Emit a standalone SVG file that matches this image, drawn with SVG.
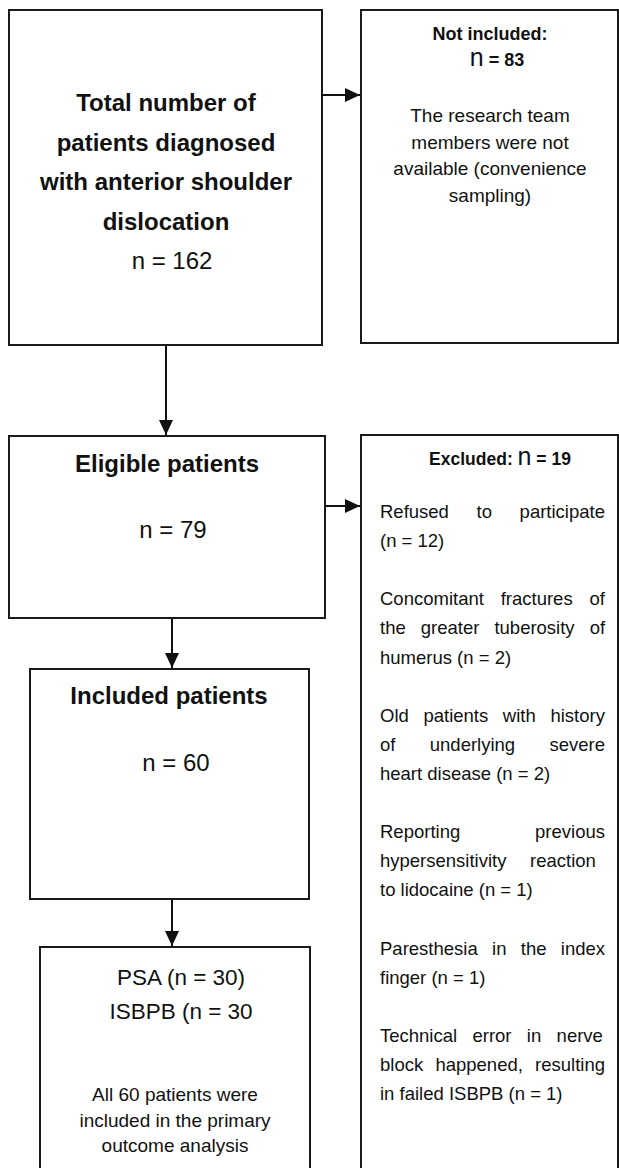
<svg xmlns="http://www.w3.org/2000/svg" width="619" height="1168" viewBox="0 0 619 1168">
<style>
.box{fill:#fff;stroke:#1a1a1a;stroke-width:2}
.t{font-family:"Liberation Sans",Arial,sans-serif;fill:#111}
.b{font-weight:bold}
.title{font-size:24px;font-weight:bold}
.num{font-size:24px}
.mid{text-anchor:middle}
.body{font-size:19px}
.ex{font-size:18.5px}
.bign{font-size:25px;font-weight:normal}
.hdr{font-size:17.5px;font-weight:bold}
.conn{stroke:#111;stroke-width:2;fill:none;marker-end:url(#ah)}
</style>
<defs>
<marker id="ah" markerUnits="userSpaceOnUse" markerWidth="15" markerHeight="14" refX="15" refY="7" orient="auto">
<path d="M0,0 L15,7 L0,14 z" fill="#111"/>
</marker>
</defs>
<rect width="619" height="1168" fill="#fff"/>

<g id="node-total">
<rect class="box" x="9" y="10" width="313" height="335"/>
<text class="t title mid" x="166" y="111">Total number of</text>
<text class="t title mid" x="166" y="150.5">patients diagnosed</text>
<text class="t title mid" x="166" y="190">with anterior shoulder</text>
<text class="t title mid" x="166" y="229.5">dislocation</text>
<text class="t num mid" x="172" y="269">n = 162</text>
</g>

<g id="node-notincluded">
<rect class="box" x="361" y="10" width="257" height="333"/>
<text class="t hdr mid" x="490" y="40" style="font-size:18px">Not included:</text>
<text class="t hdr mid" x="497" y="66" style="font-size:18px"><tspan class="bign">n</tspan> = 83</text>
<text class="t body mid" x="490" y="122">The research team</text>
<text class="t body mid" x="490" y="148.5">members were not</text>
<text class="t body mid" x="490" y="175">available (convenience</text>
<text class="t body mid" x="490" y="201.5">sampling)</text>
</g>

<g id="node-eligible">
<rect class="box" x="9" y="436" width="316" height="182"/>
<text class="t title mid" x="167" y="472">Eligible patients</text>
<text class="t num mid" x="173" y="538">n = 79</text>
</g>

<g id="node-excluded">
<rect class="box" x="361" y="435" width="257" height="760"/>
<text class="t hdr mid" x="500" y="465">Excluded: <tspan class="bign">n</tspan> = 19</text>
<text class="t ex" x="380" y="518" word-spacing="22.5">Refused to participate</text>
<text class="t ex" x="380" y="547.1">(n = 12)</text>
<text class="t ex" x="380" y="605.3" word-spacing="11.7">Concomitant fractures of</text>
<text class="t ex" x="380" y="634.4" word-spacing="9.9">the greater tuberosity of</text>
<text class="t ex" x="380" y="663.5">humerus (n = 2)</text>
<text class="t ex" x="380" y="721.7" word-spacing="9.5">Old patients with history</text>
<text class="t ex" x="380" y="750.8" word-spacing="29.2">of underlying severe</text>
<text class="t ex" x="380" y="779.9">heart disease (n = 2)</text>
<text class="t ex" x="380" y="838.1" word-spacing="69.7">Reporting previous</text>
<text class="t ex" x="380" y="867.2" word-spacing="18.4">hypersensitivity reaction</text>
<text class="t ex" x="380" y="896.3">to lidocaine (n = 1)</text>
<text class="t ex" x="380" y="954.5" word-spacing="9.2">Paresthesia in the index</text>
<text class="t ex" x="380" y="983.6">finger (n = 1)</text>
<text class="t ex" x="380" y="1041.8" word-spacing="10.2">Technical error in nerve</text>
<text class="t ex" x="380" y="1070.9" word-spacing="7.1">block happened, resulting</text>
<text class="t ex" x="380" y="1100">in failed ISBPB (n = 1)</text>
</g>

<g id="node-included">
<rect class="box" x="30" y="669" width="279" height="230"/>
<text class="t title mid" x="169" y="704">Included patients</text>
<text class="t num mid" x="176" y="771">n = 60</text>
</g>

<g id="node-groups">
<rect class="box" x="40" y="947" width="270" height="250"/>
<text class="t mid" x="181" y="985" style="font-size:22.5px">PSA (n = 30)</text>
<text class="t mid" x="181" y="1019" style="font-size:22.5px">ISBPB (n = 30</text>
<text class="t body mid" x="175" y="1101">All 60 patients were</text>
<text class="t body mid" x="175" y="1127">included in the primary</text>
<text class="t body mid" x="175" y="1152">outcome analysis</text>
</g>

<g id="connectors">
<line class="conn" x1="322" y1="95" x2="360" y2="95"/>
<line class="conn" x1="166" y1="345" x2="166" y2="435"/>
<line class="conn" x1="325" y1="506" x2="360" y2="506"/>
<line class="conn" x1="172" y1="619" x2="172" y2="668"/>
<line class="conn" x1="172" y1="900" x2="172" y2="946"/>
</g>
</svg>
